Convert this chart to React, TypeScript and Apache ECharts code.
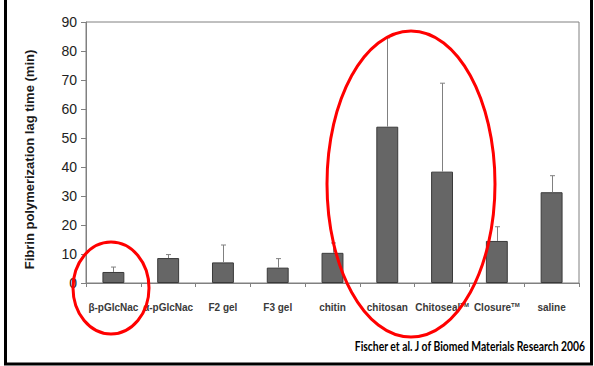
import React, { useEffect, useRef } from "react";
import * as echarts from "echarts";

const categories = ["β-pGlcNac", "α-pGlcNac", "F2 gel", "F3 gel", "chitin", "chitosan", "Chitoseal{sup|TM}", "Closure{sup|TM}", "saline"];
const means = [3.8, 8.6, 7.1, 5.3, 10.4, 53.9, 38.4, 14.5, 31.3];
const errorTops = [5.5, 9.8, 13.1, 8.4, 13.8, 84.5, 68.9, 19.4, 37.0];
const yTicks = { min: 0, max: 90, interval: 10 };
const yTitle = "Fibrin polymerization lag time (min)";
const footer = "Fischer et al. J of Biomed Materials Research 2006";

export default function App() {
  const ref = useRef<HTMLDivElement>(null);
  useEffect(() => {
    if (!ref.current) return;
    const chart = echarts.init(ref.current, null, { renderer: "svg" });
    const option: any = {
      animation: false,
      backgroundColor: "#ffffff",
      grid: { left: 86, top: 22, right: 15, bottom: 83, show: true, borderColor: "#808080", borderWidth: 1, backgroundColor: "transparent" },
      xAxis: {
        type: "category",
        data: categories,
        boundaryGap: true,
        axisLine: { lineStyle: { color: "#808080", width: 1 } },
        axisTick: { show: true, length: 4, lineStyle: { color: "#808080" } },
        axisLabel: {
          interval: 0,
          margin: 19,
          fontFamily: "Arial, Liberation Sans",
          fontWeight: "bold",
          fontSize: 10,
          color: "#3a3a3a",
          rich: { sup: { fontSize: 6, fontWeight: "bold", verticalAlign: "top", color: "#3a3a3a", padding: [0, 0, 4, 0] } },
        },
      },
      yAxis: {
        type: "value",
        min: yTicks.min,
        max: yTicks.max,
        interval: yTicks.interval,
        name: yTitle,
        nameLocation: "middle",
        nameGap: 50,
        nameTextStyle: { fontFamily: "Arial, Liberation Sans", fontWeight: "bold", fontSize: 13, color: "#1a1a1a", padding: [0, 14, 0, 0] },
        axisLine: { show: true, lineStyle: { color: "#808080", width: 1 } },
        axisTick: { show: true, length: 5, lineStyle: { color: "#808080" } },
        axisLabel: { fontFamily: "Arial, Liberation Sans", fontSize: 14, color: "#222", margin: 9 },
        splitLine: { show: false },
      },
      series: [
        {
          type: "bar",
          data: means,
          barWidth: "40%",
          itemStyle: { color: "#666666", borderColor: "#3a3a3a", borderWidth: 1 },
          z: 2,
        },
        {
          type: "custom",
          data: means.map((m, i) => [i, m, errorTops[i]]),
          z: 3,
          renderItem: (params: any, api: any) => {
            const i = api.value(0);
            const base = api.coord([i, api.value(1)]);
            const top = api.coord([i, api.value(2)]);
            const x = Math.round(base[0]) + 0.5;
            return {
              type: "group",
              children: [
                { type: "line", shape: { x1: x, y1: base[1], x2: x, y2: top[1] }, style: { stroke: "#808080", lineWidth: 1 } },
                { type: "line", shape: { x1: x - 2.5, y1: top[1], x2: x + 2.5, y2: top[1] }, style: { stroke: "#808080", lineWidth: 1 } },
              ],
            };
          },
        },
      ],
      graphic: [
        { type: "line", shape: { x1: 5.5, y1: 0, x2: 5.5, y2: 364 }, style: { stroke: "#000", lineWidth: 3 } },
        { type: "line", shape: { x1: 591.5, y1: 0, x2: 591.5, y2: 364 }, style: { stroke: "#000", lineWidth: 3 } },
        { type: "line", shape: { x1: 4, y1: 364, x2: 593, y2: 364 }, style: { stroke: "#000", lineWidth: 3 } },
        {
          type: "text",
          x: 585,
          y: 346,
          scaleX: 0.74,
          style: { text: footer, font: "bold 14px Lato, Arial", fill: "#000", align: "right", verticalAlign: "middle" },
        },
        { type: "ellipse", shape: { cx: 111, cy: 288, rx: 38, ry: 46 }, style: { fill: "none", stroke: "#ff0000", lineWidth: 3 }, z: 10 },
        { type: "ellipse", shape: { cx: 411, cy: 184, rx: 84, ry: 153 }, style: { fill: "none", stroke: "#ff0000", lineWidth: 3 }, z: 10 },
      ],
    };
    chart.setOption(option);
    return () => chart.dispose();
  }, []);
  return <div ref={ref} style={{ position: "fixed", left: 0, top: 0, width: 594, height: 366, background: "#fff" }} />;
}
